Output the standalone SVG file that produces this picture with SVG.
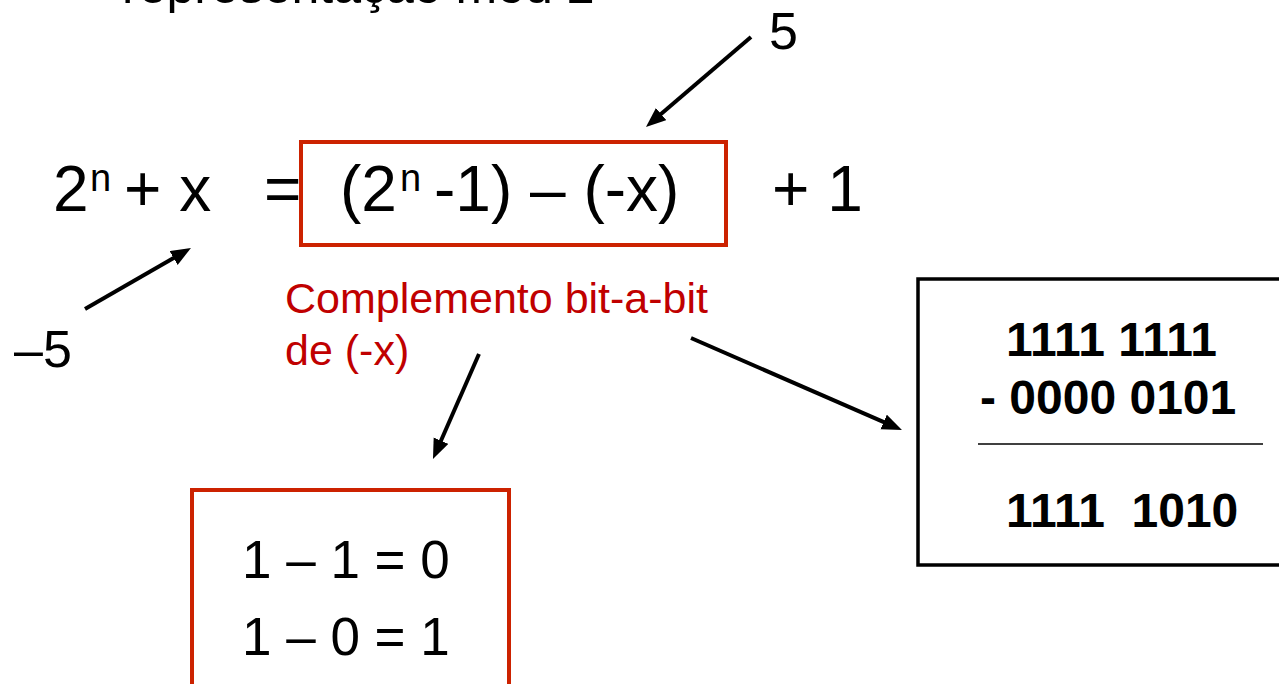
<svg xmlns="http://www.w3.org/2000/svg" width="1279" height="684" viewBox="0 0 1279 684">
<style>
text{font-family:"Liberation Sans",Arial,sans-serif;fill:#000}
.eq{font-size:64px}
.sup{font-size:38px}
.num{font-size:52px}
.lbl{font-size:43px;fill:#C00000}
.bin{font-size:48px;font-weight:bold}
.rbox{fill:none;stroke:#CC2200;stroke-width:4}
.bbox{fill:none;stroke:#000;stroke-width:3.5}
.conn line{stroke:#000;stroke-width:4}
</style>
<defs>
<marker id="ah" markerUnits="userSpaceOnUse" markerWidth="22" markerHeight="18" refX="4" refY="8" orient="auto">
<path d="M0,0 L20,8 L0,16 z" fill="#000"/>
</marker>
</defs>
<rect width="1279" height="684" fill="#fff"/>
<g id="title"><text x="122" y="3" style="font-size:50px">representação mod 2</text></g>
<g id="lhs">
<text class="eq" x="53" y="211">2</text>
<text class="sup" x="90" y="191">n</text>
<text class="eq" x="124" y="211">+ x</text>
<text class="eq" x="264" y="211">=</text>
</g>
<g id="boxed">
<rect class="rbox" x="301" y="142" width="425" height="103"/>
<text class="eq" x="340" y="211">(2</text>
<text class="sup" x="400" y="191">n</text>
<text class="eq" x="434" y="211">-1) – (-x)</text>
</g>
<g id="plus1"><text class="eq" x="772" y="211">+ 1</text></g>
<g id="five"><text class="num" x="769" y="49">5</text></g>
<g id="minusfive"><text class="num" x="14" y="367">–5</text></g>
<g id="label">
<text class="lbl" x="285" y="313">Complemento bit-a-bit</text>
<text class="lbl" x="285" y="365">de (-x)</text>
</g>
<g id="rules">
<rect class="rbox" x="192" y="490" width="317" height="220"/>
<text class="num" x="242" y="578" style="font-size:53px">1 – 1 = 0</text>
<text class="num" x="242" y="655" style="font-size:53px">1 – 0 = 1</text>
</g>
<g id="calc">
<rect class="bbox" x="918" y="279" width="380" height="286"/>
<text class="bin" x="1006" y="356">1111 1111</text>
<text class="bin" x="980" y="414">- 0000 0101</text>
<line x1="978" y1="444" x2="1263" y2="444" stroke="#000" stroke-width="1.5"/>
<text class="bin" x="1006" y="527" xml:space="preserve">1111  1010</text>
</g>
<g class="conn" id="connectors">
<line x1="85" y1="309" x2="177.1" y2="256" marker-end="url(#ah)"/>
<line x1="751" y1="37" x2="658.1" y2="116.6" marker-end="url(#ah)"/>
<line x1="479" y1="354" x2="439.4" y2="444.3" marker-end="url(#ah)"/>
<line x1="691" y1="338" x2="887.3" y2="423.6" marker-end="url(#ah)"/>
</g>
</svg>
